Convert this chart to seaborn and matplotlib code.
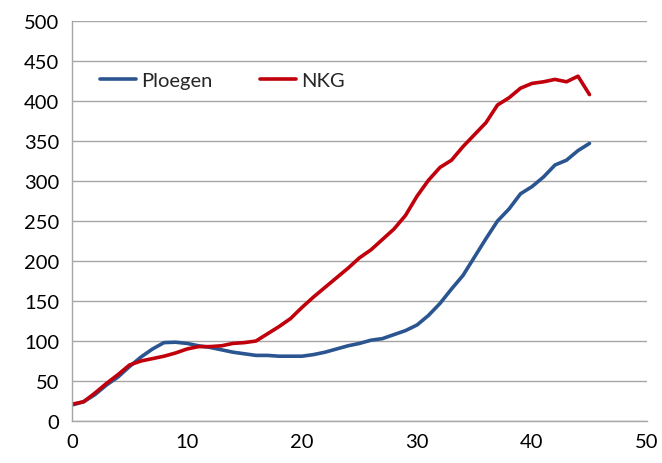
import numpy as np
import pandas as pd
import seaborn as sns
import matplotlib.pyplot as plt

# values
x = list(range(0, 46))
ploegen = [20, 24, 33, 45, 55, 68, 80, 90, 98, 98.5,
           97, 94, 92, 89, 86, 84, 82, 82, 81, 81,
           81, 83, 86, 90, 94, 97, 101, 103, 108, 113,
           120, 132, 147, 165, 182, 205, 228, 250, 265, 284,
           293, 305, 320, 326, 338, 347]
nkg = [21, 24, 35, 47, 58, 70, 75, 78, 81, 85,
       90, 93, 93, 94, 97, 98, 100, 109, 118, 128,
       142, 155, 167, 179, 191, 204, 214, 227, 240, 257,
       281, 301, 317, 326, 343, 358, 373, 395, 404, 416,
       422, 424, 427, 424, 431, 408]

df = pd.DataFrame({"x": x * 2,
                   "y": ploegen + nkg,
                   "serie": ["Ploegen"] * len(x) + ["NKG"] * len(x)})

sns.set_style("white")
plt.rcParams['font.family'] = ['Lato', 'DejaVu Sans']

fig = plt.figure(figsize=(6.62, 4.64), dpi=100)
ax = fig.add_axes([72 / 662, 42 / 464, 575 / 662, 400 / 464])

sns.lineplot(data=df, x="x", y="y", hue="serie",
             palette={"Ploegen": "#2B5590", "NKG": "#C0000B"},
             linewidth=2.6, ax=ax, legend=True)
for ln in ax.lines:
    ln.set_solid_joinstyle("round")
    ln.set_solid_capstyle("round")

ax.set_xlim(0, 50)
ax.set_ylim(0, 500)
ax.set_xticks(range(0, 51, 10))
ax.set_yticks(range(0, 501, 50))
ax.set_xlabel("")
ax.set_ylabel("")
ax.yaxis.grid(True, color="#A6A6A6", linewidth=1)
ax.set_axisbelow(True)
for s in ["top", "right"]:
    ax.spines[s].set_visible(False)
for s in ["left", "bottom"]:
    ax.spines[s].set_color("#A6A6A6")
    ax.spines[s].set_linewidth(1)
ax.tick_params(axis="both", direction="out", length=6, width=1,
               color="#A6A6A6", labelsize=14.5, labelcolor="black")
ax.tick_params(axis="x", pad=3)
ax.tick_params(axis="y", pad=3)

leg = ax.legend(loc="upper left", bbox_to_anchor=(0.018, 0.918), ncol=2,
                frameon=False, fontsize=14.5, handlelength=1.75,
                handletextpad=0.25, columnspacing=2.4)

fig.savefig("out.png", dpi=100)
